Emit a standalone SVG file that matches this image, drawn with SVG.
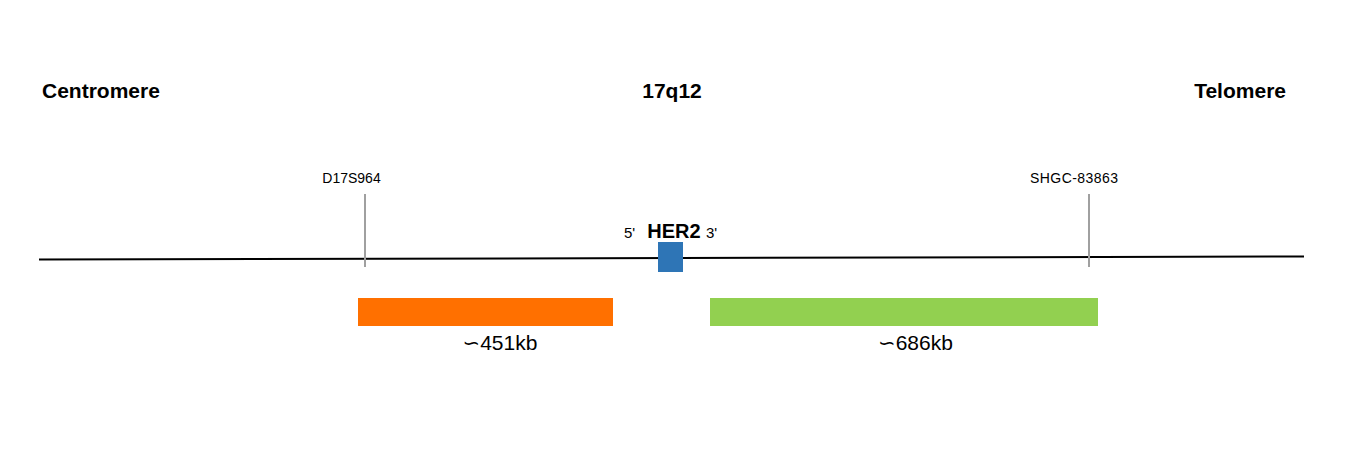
<svg xmlns="http://www.w3.org/2000/svg" width="1351" height="451" viewBox="0 0 1351 451">
<style>
.h{font-family:"Liberation Sans",Arial,sans-serif;font-weight:bold;font-size:21px;fill:#000}
.m{font-family:"Liberation Sans",Arial,sans-serif;font-size:14px;fill:#000}
.p{font-family:"Liberation Sans",Arial,sans-serif;font-size:15px;fill:#000}
.k{font-family:"Liberation Sans","DejaVu Sans",sans-serif;font-size:21px;fill:#000}
.tick{stroke:#a0a0a0;stroke-width:2}
</style>
<rect width="1351" height="451" fill="#fff"/>
<g id="labels">
<text class="h" x="42" y="98">Centromere</text>
<text class="h" x="672" y="98" text-anchor="middle">17q12</text>
<text class="h" x="1286" y="98" text-anchor="end">Telomere</text>
</g>
<g id="connectors">
<line x1="39" y1="259.5" x2="1304" y2="256.5" stroke="#000" stroke-width="2"/>
<line class="tick" x1="365" y1="194" x2="365" y2="267"/>
<line class="tick" x1="1089" y1="194" x2="1089" y2="267"/>
</g>
<g id="D17S964">
<text class="m" x="351.5" y="183" text-anchor="middle">D17S964</text>
</g>
<g id="SHGC-83863">
<text class="m" x="1074" y="183" text-anchor="middle" textLength="88">SHGC-83863</text>
</g>
<g id="HER2">
<rect x="658" y="242" width="25" height="30" fill="#2e75b6"/>
<text class="p" x="624" y="238">5'</text>
<text class="h" x="674" y="238" text-anchor="middle" style="font-size:20px">HER2</text>
<text class="p" x="706" y="238">3'</text>
</g>
<g id="probe-451">
<rect x="358" y="298" width="255" height="28" fill="#ff7000"/>
<text class="k" x="500" y="350" text-anchor="middle">∽451kb</text>
</g>
<g id="probe-686">
<rect x="710" y="298" width="388" height="28" fill="#92d050"/>
<text class="k" x="915.5" y="350" text-anchor="middle">∽686kb</text>
</g>
</svg>
